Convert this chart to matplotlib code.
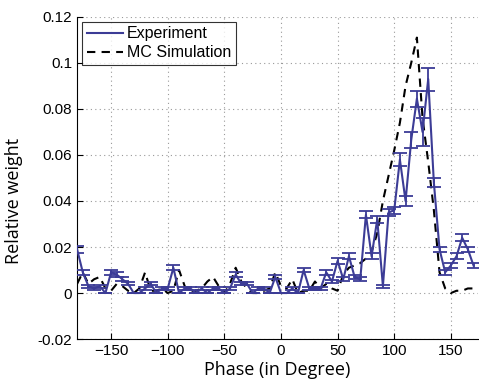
import numpy as np
import matplotlib.pyplot as plt
from matplotlib.lines import Line2D

# phase bins in degrees (5 degree steps)
phase = np.arange(-180, 175, 5)

experiment = [0.019, 0.009, 0.003, 0.002, 0.003, 0.000, 0.009, 0.008, 0.006, 0.004,
              0.000, 0.000, 0.002, 0.004, 0.000, 0.002, 0.002, 0.011, 0.000, 0.002,
              0.002, 0.000, 0.002, 0.000, 0.002, 0.002, 0.000, 0.002, 0.008, 0.004,
              0.004, 0.000, 0.002, 0.002, 0.000, 0.007, 0.000, 0.000, 0.002, 0.000,
              0.010, 0.002, 0.002, 0.002, 0.009, 0.005, 0.014, 0.006, 0.016, 0.007,
              0.006, 0.034, 0.016, 0.032, 0.003, 0.035, 0.036, 0.058, 0.040, 0.0665,
              0.0845, 0.070, 0.093, 0.048, 0.019, 0.009, 0.012, 0.016, 0.024, 0.019,
              0.012]

exp_err = [0.0015, 0.001, 0.0006, 0.0005, 0.0006, 0.0, 0.001, 0.001, 0.0008, 0.0006,
           0.0, 0.0, 0.0005, 0.0006, 0.0, 0.0005, 0.0005, 0.0012, 0.0, 0.0005,
           0.0005, 0.0, 0.0005, 0.0, 0.0005, 0.0005, 0.0, 0.0005, 0.001, 0.0006,
           0.0006, 0.0, 0.0005, 0.0005, 0.0, 0.001, 0.0, 0.0, 0.0005, 0.0,
           0.001, 0.0005, 0.0005, 0.0005, 0.001, 0.0008, 0.0012, 0.0008, 0.0012, 0.0008,
           0.0008, 0.0015, 0.0012, 0.0015, 0.0006, 0.0015, 0.0015, 0.003, 0.002, 0.0035,
           0.0035, 0.006, 0.005, 0.002, 0.0012, 0.001, 0.001, 0.0012, 0.0015, 0.0012,
           0.001]

mc_sim = [0.004, 0.009, 0.004, 0.006, 0.007, 0.002, 0.001, 0.004, 0.003, 0.001,
          0.000, 0.002, 0.009, 0.001, 0.001, 0.002, 0.000, 0.001, 0.010, 0.003,
          0.000, 0.001, 0.002, 0.005, 0.007, 0.003, 0.000, 0.004, 0.011, 0.005,
          0.002, 0.000, 0.000, 0.001, 0.002, 0.009, 0.003, 0.002, 0.006, 0.000,
          0.001, 0.001, 0.005, 0.002, 0.004, 0.002, 0.001, 0.008, 0.011, 0.012,
          0.013, 0.015, 0.018, 0.026, 0.040, 0.051, 0.062, 0.074, 0.090, 0.100,
          0.111, 0.076, 0.057, 0.036, 0.009, 0.002, 0.000, 0.001, 0.001, 0.002,
          0.002]

exp_color = '#3c3c96'

fig = plt.figure(figsize=(4.79, 3.84), dpi=100)
ax = fig.add_axes([0.161, 0.117, 0.837, 0.839])

ax.errorbar(phase, experiment, yerr=exp_err, color=exp_color, lw=1.5,
            capsize=5, capthick=1.3, elinewidth=1.3, zorder=3)
ax.plot(phase, mc_sim, color='black', lw=1.5, dashes=(4, 3), zorder=2)

ax.set_xlim(-180, 174)
ax.set_ylim(-0.02, 0.12)
ax.set_xticks([-150, -100, -50, 0, 50, 100, 150])
ax.set_yticks([-0.02, 0, 0.02, 0.04, 0.06, 0.08, 0.1, 0.12])
ax.set_yticklabels(['-0.02', '0', '0.02', '0.04', '0.06', '0.08', '0.1', '0.12'])
ax.tick_params(direction='in', labelsize=11, length=4)
for lbl in ax.get_xticklabels() + ax.get_yticklabels():
    lbl.set_family('Liberation Sans')
ax.grid(True, linestyle=(0, (1, 3)), color='#999999', lw=0.8)
ax.spines['top'].set_visible(False)
ax.spines['right'].set_visible(False)

ax.set_xlabel('Phase (in Degree)', fontsize=13, family='Open Sans', labelpad=2)
ax.set_ylabel('Relative weight', fontsize=13, family='Open Sans')
ax.yaxis.set_label_coords(-0.135, 0.43)

handles = [Line2D([], [], color=exp_color, lw=1.5),
           Line2D([], [], color='black', lw=1.5, dashes=(4, 3))]
leg = ax.legend(handles, ['Experiment', 'MC Simulation'], loc='upper left',
                handlelength=2.3, frameon=True, fancybox=False, edgecolor='black',
                borderpad=0.3, labelspacing=0.25, handletextpad=0.2, borderaxespad=0.3,
                prop={'family': 'Liberation Sans', 'size': 11.5})
leg.get_frame().set_linewidth(0.8)

fig.savefig('out.png', dpi=100)
